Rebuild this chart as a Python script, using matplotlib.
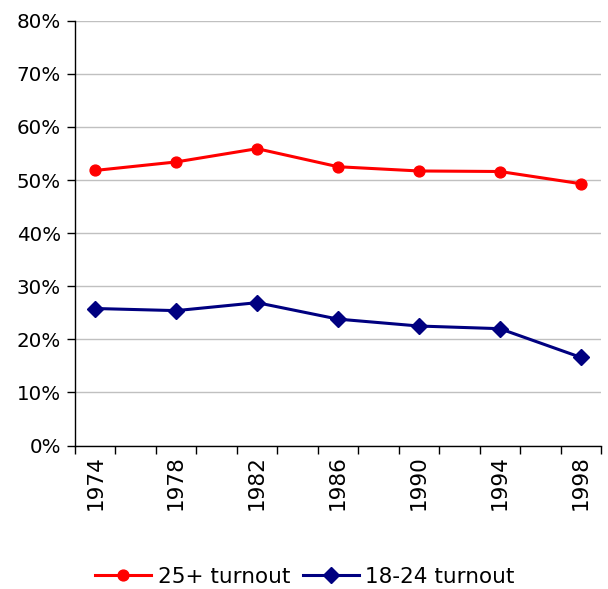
import matplotlib
matplotlib.use("Agg")
import matplotlib.pyplot as plt
from matplotlib.ticker import PercentFormatter

# Election years and turnout (%) by age group
years = [1974, 1978, 1982, 1986, 1990, 1994, 1998]
turnout_25_plus = [51.8, 53.4, 55.9, 52.5, 51.7, 51.6, 49.3]
turnout_18_24 = [25.8, 25.4, 26.9, 23.8, 22.5, 22.0, 16.6]
series_labels = ["25+ turnout", "18-24 turnout"]

plt.rcParams["font.family"] = ["DejaVu Sans"]

fig = plt.figure(figsize=(6.08, 5.89), dpi=100)
ax = fig.add_axes([75 / 608, 1 - 445.5 / 589, (601 - 75) / 608, (445.5 - 20.7) / 589])

ax.plot(years, turnout_25_plus, color="#FF0000", lw=2.2, marker="o",
        markersize=7.8, label=series_labels[0], zorder=3)
ax.plot(years, turnout_18_24, color="#000080", lw=2.2, marker="D",
        markersize=7.8, label=series_labels[1], zorder=3)

ax.set_ylim(0, 80)
ax.set_yticks(range(0, 81, 10))
ax.yaxis.set_major_formatter(PercentFormatter(decimals=0))
ax.grid(axis="y", color="#c0c0c0", lw=1)
ax.set_axisbelow(True)

# Category boundaries every two years, labels at the election years
ax.set_xlim(years[0] - 1, years[-1] + 1)
ax.set_xticks(range(years[0] - 1, years[-1] + 2, 2))
ax.set_xticklabels([])
ax.set_xticks(years, minor=True)
ax.set_xticklabels([str(y) for y in years], minor=True, rotation=90)
ax.tick_params(axis="x", which="major", length=6, width=1, direction="out")
ax.tick_params(axis="x", which="minor", length=0, pad=7, labelsize=15.5)
ax.tick_params(axis="y", length=6, width=1, direction="out", labelsize=14.3, pad=4)

for side in ("top", "right"):
    ax.spines[side].set_visible(False)
for side in ("left", "bottom"):
    ax.spines[side].set_linewidth(1)
    ax.spines[side].set_color("black")

fig.legend(loc="center", bbox_to_anchor=(305 / 608, 1 - 577 / 589), ncol=2,
           frameon=False, fontsize=15.5, handlelength=2.6, columnspacing=0.6,
           handletextpad=0.3)

fig.savefig("out.png", dpi=100)
